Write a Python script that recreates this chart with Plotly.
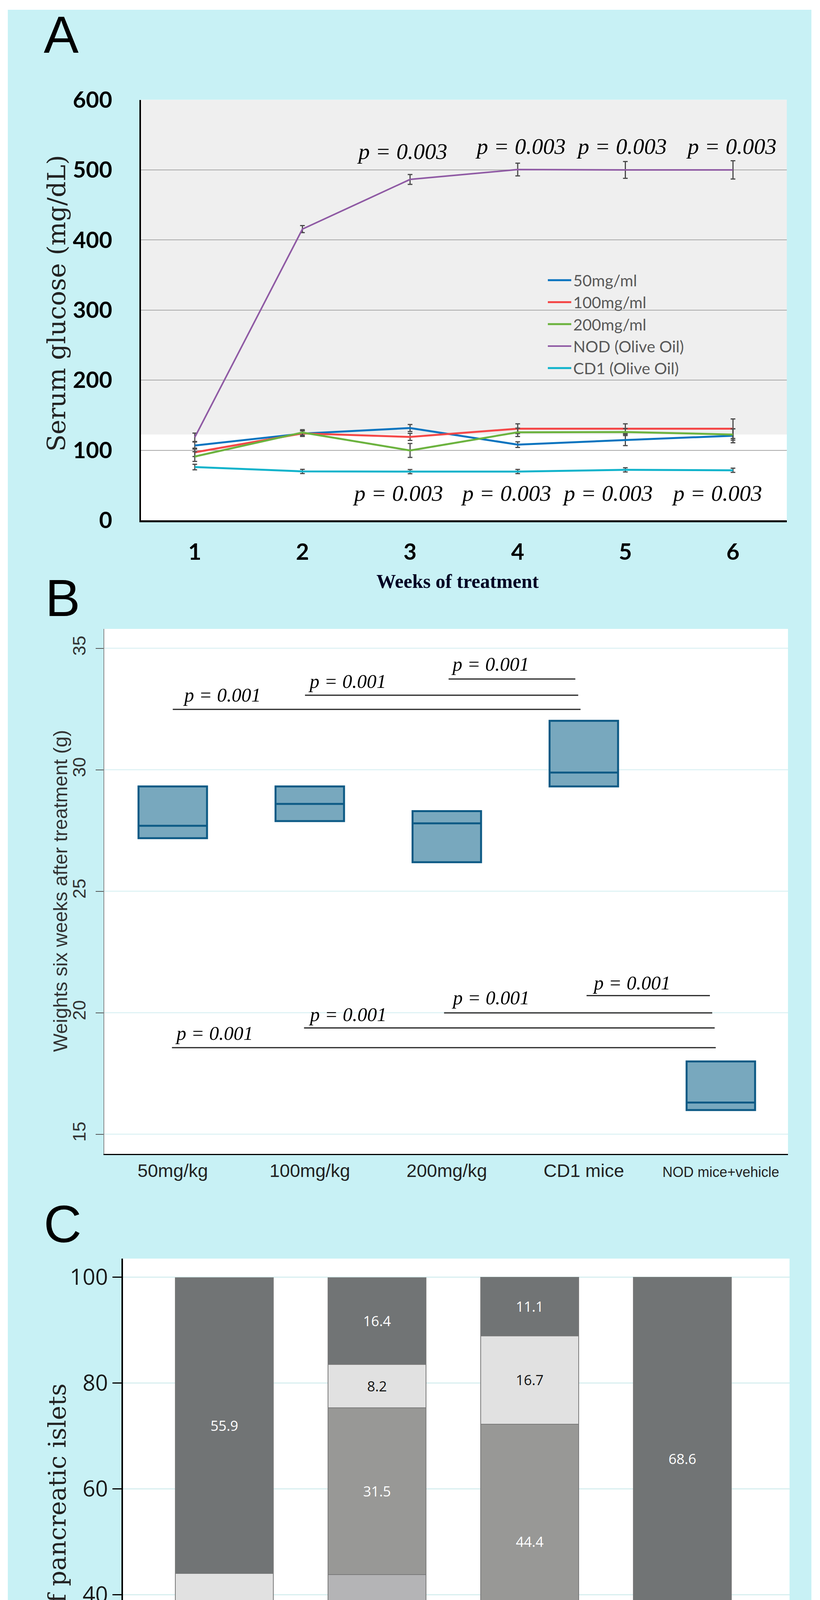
import plotly.graph_objects as go

W, H = 2100, 4994

# ---------------- Panel A data ----------------
weeks = [1, 2, 3, 4, 5, 6]
series_a = ["50mg/ml", "100mg/ml", "200mg/ml", "NOD (Olive Oil)", "CD1 (Olive Oil)"]
glucose_50 = [106.7, 123.7, 131.7, 108.0, 114.6, 120.7]
glucose_100 = [97.0, 124.0, 119.0, 130.7, 130.7, 130.7]
glucose_200 = [91.0, 125.3, 99.7, 125.6, 126.0, 122.4]
glucose_nod = [118.4, 415.5, 486.4, 500.5, 500.0, 500.0]
glucose_cd1 = [76.0, 69.8, 69.5, 69.6, 72.0, 71.4]
err_50 = [5, 4, 5, 4, 8, 10]
err_100 = [6, 4, 5, 7, 7, 14]
err_200 = [7, 4, 10, 6, 5, 8]
err_nod = [6, 5, 7, 9, 12, 13]
err_cd1 = [4, 3, 3, 3, 3, 3]
colors_a = ["#0a74bf", "#f44848", "#6cb33f", "#8f5aa4", "#10b3cb"]
p_top_a_x = [2.927, 4.026, 4.966, 5.985]
p_top_a_y = [526.4, 533.4, 533.4, 533.4]
p_bot_a_x = [2.887, 3.892, 4.836, 5.852]
p_bot_a_y = [38.5, 38.5, 38.5, 38.5]
p_text_a = "p = 0.003"

# ---------------- Panel B data ----------------
groups_b = ["50mg/kg", "100mg/kg", "200mg/kg", "CD1 mice", "NOD mice+vehicle"]
q1_b = [27.19, 27.89, 26.20, 29.32, 16.00]
median_b = [27.70, 28.60, 27.80, 29.89, 16.31]
q3_b = [29.32, 29.32, 28.30, 32.02, 18.00]
# significance brackets: (x start, x end, y level) and label (x left, y)
sig_lines_b = [(0.00, 2.976, 32.49), (0.965, 2.959, 33.07), (2.013, 2.938, 33.74),
               (3.02, 3.92, 20.71), (1.98, 3.937, 20.00), (0.958, 3.955, 19.38),
               (-0.006, 3.963, 18.57)]
sig_text_b = [(0.071, 33.08), (0.985, 33.65), (2.028, 34.35),
              (3.06, 21.24), (2.031, 20.62), (0.987, 19.93), (0.013, 19.17)]
p_text_b = "p = 0.001"

# ---------------- Panel C data ----------------
doses_c = ["50 mg/kg", "100 mg/kg", "200 mg/kg", "Vehicle"]
no_infiltrate = [0, 19.1, 5.6, 0]
score1 = [2.9, 24.7, 22.2, 5.7]
score2 = [23.5, 31.5, 44.4, 20]
score3 = [17.6, 8.2, 16.7, 5.7]
score4 = [55.9, 16.4, 11.1, 68.6]
stack_names = ["No infiltrate", "1", "2", "3", "4"]
stack_values = [no_infiltrate, score1, score2, score3, score4]
stack_colors = ["#000000", "#b4b4b6", "#989896", "#e1e1e1", "#717475"]
stack_textcolors = ["#ffffff", "#ffffff", "#ffffff", "#111111", "#ffffff"]
legend_order_c = ["1", "2", "3", "4", "No infiltrate"]


def px(x):
    return x / W


def py(y):
    return 1 - y / H


CYAN = "#c8f1f5"
fig = go.Figure()

# ---- A traces ----
ys_a = [glucose_50, glucose_100, glucose_200, glucose_nod, glucose_cd1]
es_a = [err_50, err_100, err_200, err_nod, err_cd1]
for name, yv, ev, col in zip(series_a, ys_a, es_a, colors_a):
    fig.add_trace(go.Scatter(
        x=weeks, y=yv, name=name, mode="lines", xaxis="x", yaxis="y",
        line=dict(color=col, width=4 if name.startswith("NOD") else 5),
        error_y=dict(type="data", array=ev, visible=True, color="#4a4a4a",
                     thickness=3, width=6),
        showlegend=True,
    ))

# ---- B traces ----
fig.add_trace(go.Box(
    x=list(range(len(groups_b))), q1=q1_b, median=median_b, q3=q3_b,
    lowerfence=q1_b, upperfence=q3_b, width=0.5, whiskerwidth=0,
    fillcolor="#78a8be", line=dict(color="#0d5a85", width=5),
    xaxis="x2", yaxis="y2", showlegend=False, boxpoints=False,
))

# ---- C traces ----
for name, vals, col, tcol in zip(stack_names, stack_values, stack_colors, stack_textcolors):
    fig.add_trace(go.Bar(
        x=list(range(len(doses_c))), y=vals, name=name,
        text=[("%g" % v) if v else "" for v in vals],
        textposition="inside", insidetextanchor="middle", constraintext="none",
        textfont=dict(family="Open Sans", size=36, color=tcol),
        marker=dict(color=col, line=dict(color="#7a7a7a", width=1.5)),
        width=0.642, xaxis="x3", yaxis="y3", showlegend=False,
    ))

annotations = []
shapes = []

# panel letters
for letter, (lx, ly) in zip("ABC", [(157, 88), (160, 1530), (160, 3133)]):
    annotations.append(dict(text=letter, x=px(lx), y=py(ly), xref="paper", yref="paper",
                            xanchor="center", yanchor="middle", showarrow=False,
                            font=dict(family="Liberation Sans", size=134, color="#000000")))

# ---- A annotations ----
for xv, yv in list(zip(p_top_a_x, p_top_a_y)) + list(zip(p_bot_a_x, p_bot_a_y)):
    annotations.append(dict(text=p_text_a, x=xv, y=yv, xref="x", yref="y",
                            xanchor="center", yanchor="middle", showarrow=False,
                            font=dict(family="Liberation Serif", size=58, color="#000000",
                                      style="italic")))
annotations.append(dict(text="Serum glucose (mg/dL)", x=px(145), y=py(777), xref="paper",
                        yref="paper", textangle=-90, showarrow=False,
                        xanchor="center", yanchor="middle",
                        font=dict(family="DejaVu Serif", size=64, color="#222222")))
annotations.append(dict(text="Weeks of treatment", x=px(1172), y=py(1488), xref="paper",
                        yref="paper", showarrow=False, xanchor="center", yanchor="middle",
                        font=dict(family="Liberation Serif", size=50, color="#000022",
                                  weight="bold")))
shapes.append(dict(type="rect", xref="x domain", yref="y", x0=0, x1=1, y0=122.5, y1=600,
                   fillcolor="#efefef", line=dict(width=0), layer="below"))

# ---- B annotations ----
for (x0, x1, yl) in sig_lines_b:
    shapes.append(dict(type="line", xref="x2", yref="y2", x0=x0, x1=x1, y0=yl, y1=yl,
                       line=dict(color="#222222", width=3)))
for (xt, yt) in sig_text_b:
    annotations.append(dict(text=p_text_b, x=xt, y=yt, xref="x2", yref="y2",
                            xanchor="left", yanchor="middle", showarrow=False,
                            font=dict(family="Liberation Serif", size=50, color="#000000",
                                      style="italic")))
annotations.append(dict(text="Weights six weeks after treatment (g)", x=px(155), y=py(2281),
                        xref="paper", yref="paper", textangle=-90, showarrow=False,
                        xanchor="center", yanchor="middle",
                        font=dict(family="Liberation Sans", size=50, color="#333333")))

# ---- C annotations ----
annotations.append(dict(text="% of pancreatic islets", x=px(146), y=py(3881), xref="paper",
                        yref="paper", textangle=-90, showarrow=False,
                        xanchor="center", yanchor="middle",
                        font=dict(family="DejaVu Serif", size=62, color="#222222")))
annotations.append(dict(text="Curcumin dosage", x=px(1127), y=py(4872), xref="paper",
                        yref="paper", showarrow=False, xanchor="center", yanchor="middle",
                        font=dict(family="DejaVu Serif", size=61, color="#222222")))
# custom legend for C
sq_left0, sq_step, sq_size, sq_cy = 569, 203.5, 58, 4786
for i, nm in enumerate(legend_order_c):
    k = stack_names.index(nm)
    x0 = sq_left0 + i * sq_step
    shapes.append(dict(type="rect", xref="paper", yref="paper",
                       x0=px(x0), x1=px(x0 + sq_size),
                       y0=py(sq_cy + sq_size / 2), y1=py(sq_cy - sq_size / 2),
                       fillcolor=stack_colors[k], line=dict(color="#8a8a8a", width=2)))
    annotations.append(dict(text=nm, x=px(x0 + sq_size + 30), y=py(sq_cy), xref="paper",
                            yref="paper", xanchor="left", yanchor="middle", showarrow=False,
                            font=dict(family="Open Sans", size=54, color="#111111")))

# white outer border
for (x0, y0, x1, y1) in [(0, 0, W, 25), (0, 4972, W, H), (0, 0, 20, H), (2078, 0, W, H)]:
    shapes.append(dict(type="rect", xref="paper", yref="paper", x0=px(x0), x1=px(x1),
                       y0=py(y1), y1=py(y0), fillcolor="#ffffff", line=dict(width=0),
                       layer="above"))

fig.update_layout(
    width=W, height=H, margin=dict(l=0, r=0, t=0, b=0, pad=0, autoexpand=False),
    paper_bgcolor=CYAN, plot_bgcolor="#ffffff",
    barmode="stack",
    annotations=annotations, shapes=shapes,
    legend=dict(x=px(1398), y=py(684), xanchor="left", yanchor="top",
                bgcolor="rgba(0,0,0,0)", itemwidth=60, tracegroupgap=0,
                traceorder="normal",
                font=dict(family="Lato", size=41, color="#595959")),
    xaxis=dict(domain=[px(361), px(2015)], range=[0.5, 6.5], anchor="y", automargin=False,
               tickvals=weeks, ticktext=[str(w) for w in weeks],
               tickfont=dict(family="Lato", size=58, color="#000000", weight="bold"),
               showline=True, linecolor="#000000", linewidth=5, showgrid=False,
               zeroline=False, ticks="", ticklabelstandoff=26),
    yaxis=dict(domain=[py(1332), py(255.5)], range=[0, 600], anchor="x", automargin=False,
               tickvals=[0, 100, 200, 300, 400, 500, 600],
               tickfont=dict(family="Lato", size=58, color="#000000", weight="bold"),
               showline=True, linecolor="#000000", linewidth=4,
               showgrid=True, gridcolor="#a8a8a8", gridwidth=2,
               zeroline=False, ticks="", ticklabelstandoff=58),
    xaxis2=dict(domain=[px(267), px(2018)], range=[-0.5, 4.49], anchor="y2", automargin=False,
                tickvals=list(range(len(groups_b))),
                ticktext=groups_b[:-1] + ['<span style="font-size:36px">%s</span>' % groups_b[-1]],
                tickfont=dict(family="Liberation Sans", size=47, color="#222222"),
                showline=True, linecolor="#000000", linewidth=3, showgrid=False,
                zeroline=False, ticks="", ticklabelstandoff=0),
    yaxis2=dict(domain=[py(2954), py(1610)], range=[14.196, 35.8], anchor="x2", automargin=False,
                tickvals=[15, 20, 25, 30, 35], tickangle=-90,
                tickfont=dict(family="Liberation Sans", size=46, color="#333333"),
                showline=True, linecolor="#888888", linewidth=2,
                showgrid=True, gridcolor="#e0f3f5", gridwidth=3,
                zeroline=False, ticks="outside", ticklen=20, tickwidth=2,
                tickcolor="#555555", ticklabelstandoff=8),
    xaxis3=dict(domain=[px(315), px(2022)], range=[-0.664, 3.702], anchor="y3", automargin=False,
                tickvals=list(range(len(doses_c))), ticktext=doses_c,
                tickfont=dict(family="Open Sans", size=56, color="#111111"),
                showline=True, linecolor="#000000", linewidth=4, showgrid=False,
                zeroline=False, ticks="outside", ticklen=15, tickwidth=3,
                tickcolor="#000000", ticklabelstandoff=22),
    yaxis3=dict(domain=[py(4624.5), py(3222)], range=[0, 103.5], anchor="x3", automargin=False,
                tickvals=[0, 20, 40, 60, 80, 100],
                tickfont=dict(family="Open Sans", size=57, color="#1a1a1a"),
                showline=True, linecolor="#000000", linewidth=4,
                showgrid=True, gridcolor="#d8eff0", gridwidth=3,
                zeroline=False, ticks="outside", ticklen=23, tickwidth=3,
                tickcolor="#000000"),
)

fig.write_html("out.html", post_script="document.body.style.margin='0';",
               config={"displayModeBar": False})
